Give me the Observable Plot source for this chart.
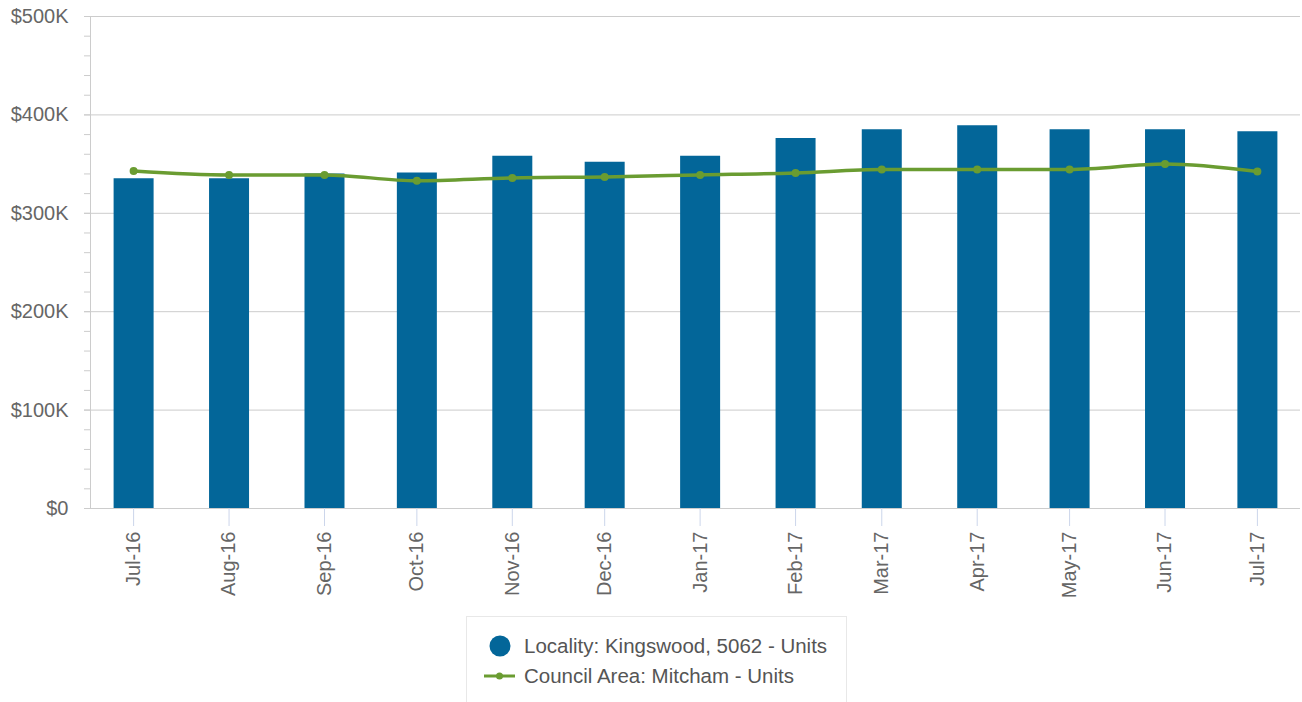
<!DOCTYPE html>
<html>
<head>
<meta charset="utf-8">
<script src="https://cdn.jsdelivr.net/npm/d3@7"></script>
<script src="https://cdn.jsdelivr.net/npm/@observablehq/plot@0.6"></script>
<style>
  body { margin: 0; background: white; font-family: "Liberation Sans", Arial, sans-serif; }
  #chart { position: absolute; left: 0; top: 0; }
  #legend { position: absolute; left: 466px; top: 616px; width: 381px; height: 100px;
    border: 1px solid #e8e8e8; box-sizing: border-box; color: #555; font-size: 20.5px; }
  .item { position: absolute; left: 0; height: 24px; display: flex; align-items: center; white-space: nowrap; }
  .item svg { display: block; }
</style>
</head>
<body>
<div id="chart"></div>
<div id="legend">
  <div class="item" style="top:17px; left:16px;">
    <svg width="41" height="24"><circle cx="17" cy="12" r="10.5" fill="#036699"></circle></svg>
    <span id="lab0"></span>
  </div>
  <div class="item" style="top:47px; left:16px;">
    <svg width="41" height="24"><line x1="1" x2="32" y1="12" y2="12" stroke="#6a9c31" stroke-width="3"></line><circle cx="16.5" cy="12" r="3.5" fill="#6a9c31"></circle></svg>
    <span id="lab1"></span>
  </div>
</div>
<script>
const months = ["2016-07-01","2016-08-01","2016-09-01","2016-10-01","2016-11-01","2016-12-01",
  "2017-01-01","2017-02-01","2017-03-01","2017-04-01","2017-05-01","2017-06-01","2017-07-01"];
const tickLabels = ["Jul-16","Aug-16","Sep-16","Oct-16","Nov-16","Dec-16",
  "Jan-17","Feb-17","Mar-17","Apr-17","May-17","Jun-17","Jul-17"];
const localityValues = [335000,335000,340000,341000,358000,352000,358000,376000,385000,389000,385000,385000,383000];
const councilValues = [343000,339000,339000,333000,336000,337000,339000,341000,344500,344500,344500,350000,342500];
const seriesNames = ["Locality: Kingswood, 5062 - Units", "Council Area: Mitcham - Units"];
const yTicks = [0,100000,200000,300000,400000,500000];

document.getElementById("lab0").textContent = seriesNames[0];
document.getElementById("lab1").textContent = seriesNames[1];

const data = months.map((m, i) => ({date: new Date(m + "T00:00:00Z"), locality: localityValues[i], council: councilValues[i], label: tickLabels[i]}));
const labelOf = new Map(data.map(d => [+d.date, d.label]));
const xDomain = [new Date("2016-06-17T00:00:00Z"), new Date("2017-07-15T00:00:00Z")];

const chart = Plot.plot({
  width: 1302, height: 612,
  marginLeft: 90, marginRight: 2, marginTop: 16, marginBottom: 104,
  style: {fontFamily: "'Liberation Sans', Arial, sans-serif", fontSize: "20px", color: "#666", background: "white"},
  x: {type: "utc", domain: xDomain},
  y: {domain: [0, 500000]},
  marks: [
    Plot.gridY({ticks: yTicks.slice(1), stroke: "#cccccc", strokeOpacity: 1}),
    Plot.axisY({ticks: d3.range(0, 500001, 20000), tickSize: 6, text: null, stroke: "#cccccc"}),
    Plot.axisY({ticks: yTicks, tickSize: 6, tickPadding: 16, label: null,
      tickFormat: d => d === 0 ? "$0" : `$${d / 1000}K`, fill: "#666", stroke: "#cccccc"}),
    Plot.ruleX([xDomain[0]], {stroke: "#cccccc"}),
    Plot.ruleX(data, {x: "date", y1: 0, y2: "locality", stroke: "#036699", strokeWidth: 40}),
    Plot.ruleY([0], {stroke: "#cccccc"}),
    Plot.axisX({ticks: data.map(d => d.date), tickFormat: d => labelOf.get(+d), tickRotate: -90,
      tickSize: 18, tickPadding: 5, label: null, stroke: "#ccd6eb", fill: "#666"}),
    Plot.line(data, {x: "date", y: "council", stroke: "#6a9c31", strokeWidth: 3.5, curve: "monotone-x"}),
    Plot.dot(data, {x: "date", y: "council", fill: "#6a9c31", r: 4})
  ]
});
document.getElementById("chart").appendChild(chart);
</script>
</body>
</html>
